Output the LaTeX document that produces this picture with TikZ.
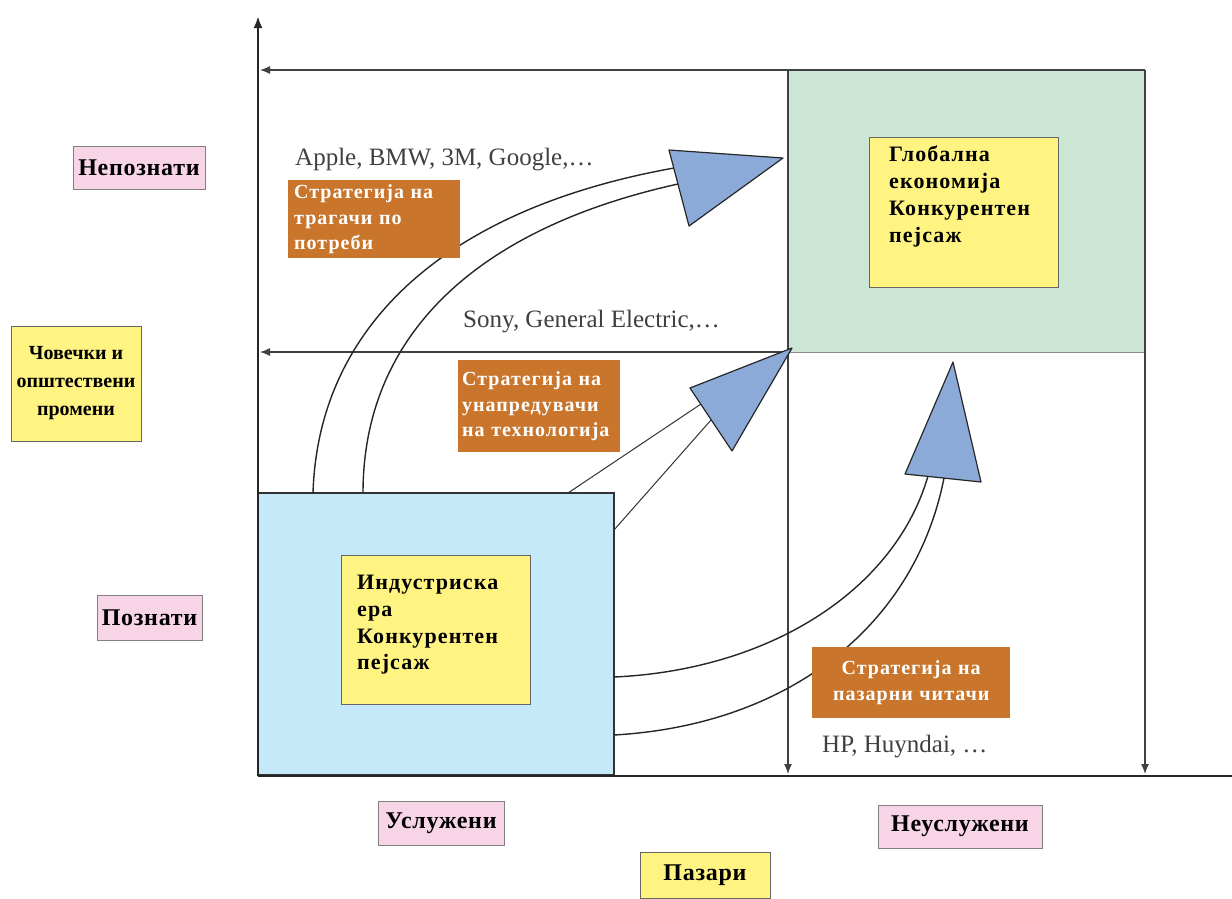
\documentclass[tikz,border=0pt]{standalone}
\usepackage{fontspec}
\setmainfont{Liberation Serif}
\usetikzlibrary{arrows.meta}
\definecolor{greenc}{RGB}{203,230,213}
\definecolor{bluec}{RGB}{198,233,250}
\definecolor{yelc}{RGB}{255,244,130}
\definecolor{pinkc}{RGB}{248,213,230}
\definecolor{orngc}{RGB}{201,118,44}
\definecolor{tric}{RGB}{139,170,216}
\tikzset{
 region/.style={inner sep=0pt, outer sep=0pt, anchor=north west},
 axisline/.style={draw=black!85, line width=2.4pt},
 gridline/.style={draw=black!75, line width=1.3pt, -{Latex[length=10pt,width=8pt]}},
 ybox/.style={draw=black!60, fill=yelc, line width=1pt, inner sep=0pt},
 pbox/.style={draw=black!50, fill=pinkc, line width=1pt, inner sep=0pt, font=\bfseries\fontsize{24}{28}\selectfont\addfontfeature{LetterSpace=3}},
 obox/.style={fill=orngc, text=white, inner ysep=0pt, anchor=north west, font=\bfseries\fontsize{20}{25.5}\selectfont\addfontfeature{LetterSpace=5}, align=left},
 btext/.style={anchor=north west, inner sep=0pt, align=left, font=\bfseries\fontsize{22}{26.7}\selectfont\addfontfeature{LetterSpace=5}},
 comp/.style={anchor=west, inner sep=0pt, text=black!75, font=\fontsize{25}{28}\selectfont},
 rail/.style={draw=black!85, line width=1.4pt},
 headtri/.style={draw=black!85, fill=tric, line width=1.2pt, line join=round},
}
\begin{document}
\begin{tikzpicture}[x=1pt,y=-1pt]
\useasboundingbox (0,0) rectangle (1232,898);
\fill[white] (0,0) rectangle (1232,898);

% quadrant regions
\node[region, fill=greenc, draw=black!45, line width=1pt, minimum width=357pt, minimum height=282pt] (glob) at (788,70) {};
\node[region, fill=bluec, draw=black!80, line width=2pt, minimum width=356pt, minimum height=282pt] (indu) at (258,493) {};

% grid lines
\coordinate (g1s) at (1145,70);  \coordinate (g1e) at (260,70);
\coordinate (g2s) at (790,352);  \coordinate (g2e) at (260,352);
\coordinate (v1s) at (788,70);   \coordinate (v1e) at (788,774);
\coordinate (v2s) at (1145,70);  \coordinate (v2e) at (1145,774);
\draw[gridline] (g1s) -- (g1e);
\draw[gridline] (g2s) -- (g2e);
\draw[gridline] (v1s) -- (v1e);
\draw[gridline] (v2s) -- (v2e);

% axes
\coordinate (O) at (258,776);
\coordinate (ytop) at (258,16);
\coordinate (xend) at (1232,776);
\draw[axisline, -{Latex[length=12pt,width=9pt]}] (O) -- (ytop);
\draw[axisline] (O) -- (xend);

% inner yellow boxes
\node[ybox, anchor=north west, minimum width=189pt, minimum height=150pt] (gbox) at (869,137) {};
\node[btext] (gtxt) at (889,146) {Глобална\\економија\\Конкурентен\\пејсаж};
\node[ybox, anchor=north west, minimum width=189pt, minimum height=149pt] (ibox) at (341,555) {};
\node[btext] (itxt) at (357,575) {Индустриска\\ера\\Конкурентен\\пејсаж};

% rails of the block arrows
\coordinate (a1) at (313,493); \coordinate (a2) at (674,168);
\coordinate (b1) at (363,493); \coordinate (b2) at (678,184);
\draw[rail] (a1) .. controls (318,330) and (440,210) .. (a2);
\draw[rail] (b1) .. controls (363,340) and (470,230) .. (b2);

\coordinate (c1) at (568,493); \coordinate (c2) at (701,404);
\coordinate (d1) at (614,530); \coordinate (d2) at (711,420);
\draw[draw=black!80, line width=1pt] (c1) -- (c2);
\draw[draw=black!80, line width=1pt] (d1) -- (d2);

\coordinate (e1) at (614,677); \coordinate (e2) at (928,476);
\coordinate (f1) at (614,735); \coordinate (f2) at (944,478);
\draw[rail] (e1) .. controls (770,670) and (895,590) .. (e2);
\draw[rail] (f1) .. controls (790,725) and (915,625) .. (f2);

% triangle heads
\coordinate (t1a) at (669,150); \coordinate (t1b) at (783,158); \coordinate (t1c) at (689,226);
\filldraw[headtri] (t1a) -- (t1b) -- (t1c) -- cycle;
\coordinate (t2a) at (690,388); \coordinate (t2b) at (792,348); \coordinate (t2c) at (732,451);
\filldraw[headtri] (t2a) -- (t2b) -- (t2c) -- cycle;
\coordinate (t3a) at (953,362); \coordinate (t3b) at (981,482); \coordinate (t3c) at (905,474);
\filldraw[headtri] (t3a) -- (t3b) -- (t3c) -- cycle;

% strategy boxes
\node[obox, minimum width=172pt, minimum height=78pt, text width=160pt, inner xsep=6pt] (s1) at (288,180) {Стратегија на\\трагачи по\\потреби};
\node[obox, minimum width=162pt, minimum height=92pt, text width=154pt, inner xsep=4pt] (s2) at (458,360) {Стратегија на\\унапредувачи\\на технологија};
\node[obox, align=center, minimum width=198pt, minimum height=71pt, text width=190pt, inner xsep=4pt] (s3) at (812,647) {Стратегија на\\пазарни читачи};

% company examples
\node[comp] (ex1) at (295,160) {Apple, BMW, 3M, Google,…};
\node[comp] (ex2) at (463,322) {Sony, General Electric,…};
\node[comp] (ex3) at (822,747) {HP, Huyndai, …};

% axis labels
\node[pbox, minimum width=132pt, minimum height=43pt] (unk) at (139,168) {Непознати};
\node[ybox, minimum width=130pt, minimum height=115pt, align=center, font=\bfseries\fontsize{20}{28}\selectfont] (hum) at (76,383.5) {Човечки и\\општествени\\промени};
\node[pbox, minimum width=105pt, minimum height=45pt] (kn) at (149.5,617.5) {Познати};
\node[pbox, minimum width=126pt, minimum height=44pt] (srv) at (441,823) {Услужени};
\node[pbox, minimum width=164pt, minimum height=43pt] (usrv) at (960,826.5) {Неуслужени};
\node[ybox, minimum width=130pt, minimum height=46pt, font=\bfseries\fontsize{24}{28}\selectfont\addfontfeature{LetterSpace=3}] (mkt) at (705,875) {Пазари};
\end{tikzpicture}
\end{document}
